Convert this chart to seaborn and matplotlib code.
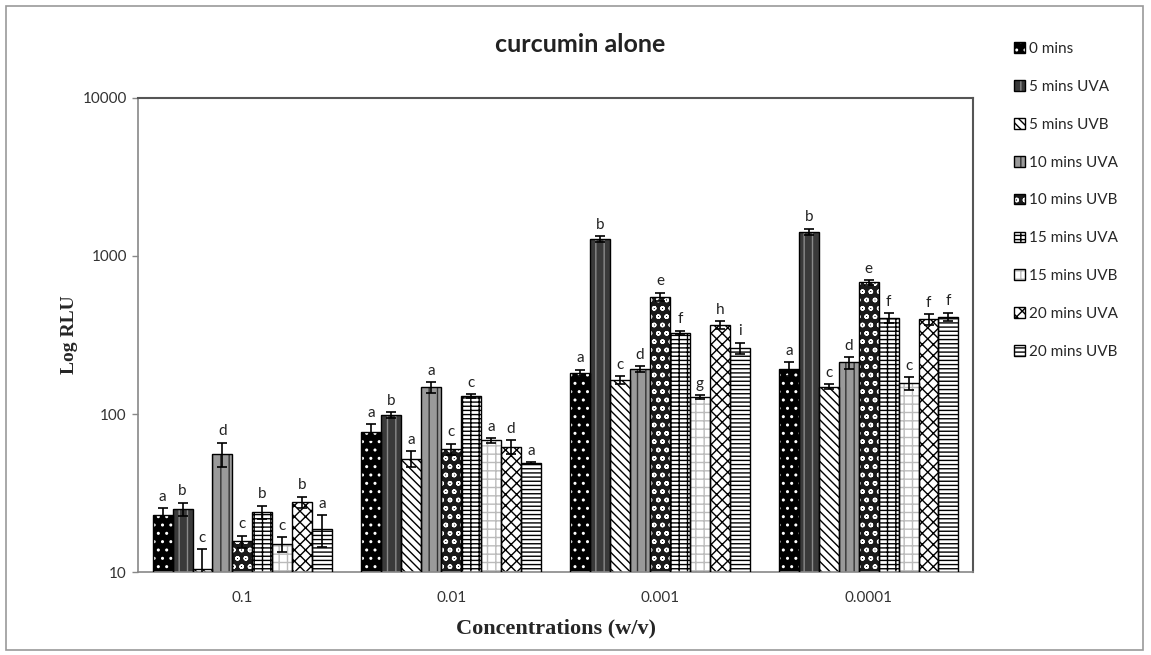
import matplotlib
matplotlib.use("Agg")
import matplotlib.pyplot as plt
from matplotlib.patches import Patch, Rectangle
import numpy as np
import seaborn as sns
import pandas as pd

# data (mean RLU and error per treatment, one value per concentration)
concentrations = ["0.1", "0.01", "0.001", "0.0001"]
treatments = ["0 mins", "5 mins UVA", "5 mins UVB", "10 mins UVA", "10 mins UVB",
              "15 mins UVA", "15 mins UVB", "20 mins UVA", "20 mins UVB"]

mins0 = [23, 77, 182, 193]
uva5 = [25, 99, 1280, 1420]
uvb5 = [10.5, 52, 164, 149]
uva10 = [56, 148, 192, 212]
uvb10 = [15.6, 60, 552, 680]
uva15 = [24, 130, 327, 404]
uvb15 = [15, 68, 128, 156]
uva20 = [27.7, 62, 367, 397]
uvb20 = [18.6, 49, 262, 413]

err_mins0 = [2.3, 9, 9, 19]
err_uva5 = [2.5, 4, 60, 70]
err_uvb5 = [3.5, 6, 10, 5]
err_uva10 = [10, 12, 8, 18]
err_uvb10 = [1.4, 5, 35, 25]
err_uva15 = [2.3, 3, 10, 30]
err_uvb15 = [1.7, 2, 3, 15]
err_uva20 = [2.3, 6, 22, 30]
err_uvb20 = [4.3, 0.5, 21, 25]

# significance letters, one list per concentration
letters_01 = ["a", "b", "c", "d", "c", "b", "c", "b", "a"]
letters_001 = ["a", "b", "a", "a", "c", "c", "a", "d", "a"]
letters_0001 = ["a", "b", "c", "d", "e", "f", "g", "h", "i"]
letters_00001 = ["a", "b", "c", "d", "e", "f", "c", "f", "f"]

means = [mins0, uva5, uvb5, uva10, uvb10, uva15, uvb15, uva20, uvb20]
errs = [err_mins0, err_uva5, err_uvb5, err_uva10, err_uvb10,
        err_uva15, err_uvb15, err_uva20, err_uvb20]
letters = [letters_01, letters_001, letters_0001, letters_00001]

rows = []
for t, m in zip(treatments, means):
    for c, v in zip(concentrations, m):
        rows.append({"conc": c, "treatment": t, "rlu": v})
df = pd.DataFrame(rows)

# (face, hatch, hatch colour) for each treatment
styles = [("black", "..", "white"),
          ("#3a3a3a", "||", "#8a8a8a"),
          ("white", "\\\\\\\\", "black"),
          ("#9a9a9a", "||", "#333333"),
          ("#1a1a1a", "oo", "white"),
          ("white", "++--", "black"),
          ("white", "++", "#bbbbbb"),
          ("white", "xxx", "black"),
          ("white", "----", "black")]

sns.set_style("white")
plt.rcParams["hatch.linewidth"] = 1.0
plt.rcParams["font.family"] = ["Lato", "DejaVu Sans"]

fig = plt.figure(figsize=(11.51, 6.55), dpi=100)
ax = fig.add_axes([0.1199, 0.1267, 0.7255, 0.7237])

sns.barplot(data=df, x="conc", y="rlu", hue="treatment", order=concentrations,
            hue_order=treatments, width=0.86, errorbar=None, legend=False, ax=ax)
ax.set_yscale("log")

bar_groups = list(ax.containers)
for i, cont in enumerate(bar_groups):
    face, hatch, hcol = styles[i]
    for j, bar in enumerate(cont):
        bar.set_facecolor(face)
        bar.set_hatch(hatch)
        bar.set_edgecolor(hcol)
        bar.set_linewidth(0)
        x, y = bar.get_xy()
        ax.add_patch(Rectangle((x, y), bar.get_width(), bar.get_height(),
                               fill=False, edgecolor="black", lw=1.0, zorder=3))
        xc = x + bar.get_width() / 2
        top = y + bar.get_height()
        e = errs[i][j]
        ax.errorbar(xc, top, yerr=e, fmt="none", ecolor="black", elinewidth=1.2,
                    capsize=3.5, capthick=1.2, zorder=4)
        ax.annotate(letters[j][i], (xc, top + e), xytext=(0, 3),
                    textcoords="offset points", ha="center", va="bottom",
                    fontsize=11, color="#222222")

ax.set_xlim(-0.5, len(concentrations) - 0.5)
ax.set_ylim(10, 10000)
ax.set_yticks([10, 100, 1000, 10000])
ax.set_yticklabels(["10", "100", "1000", "10000"])
ax.minorticks_off()
ax.tick_params(axis="y", which="major", left=True, length=4, width=1,
               color="#888888", labelsize=11, pad=4)
ax.tick_params(axis="x", bottom=False, labelsize=11, pad=10)
for lab in ax.get_yticklabels() + ax.get_xticklabels():
    lab.set_color("#333333")

for side in ["left", "bottom"]:
    ax.spines[side].set_color("#888888")
    ax.spines[side].set_linewidth(1.2)
for side in ["top", "right"]:
    ax.spines[side].set_color("#555555")
    ax.spines[side].set_linewidth(1.5)

ax.set_xlabel("Concentrations (w/v)", family="Liberation Serif", fontweight="bold",
              fontsize=16, labelpad=10)
ax.set_ylabel("Log RLU", family="Liberation Serif", fontweight="bold",
              fontsize=14, labelpad=3)

fig.text(580 / 1151, 1 - 45 / 655, "curcumin alone", ha="center", va="center",
         fontsize=18, fontweight="bold", color="#222222")

handles = [(Patch(facecolor=f, hatch=h, edgecolor=c, lw=0),
            Patch(fill=False, edgecolor="black", lw=1)) for f, h, c in styles]
fig.legend(handles, treatments, loc="upper left",
           bbox_to_anchor=(1008 / 1151, 1 - 36 / 655), frameon=False,
           fontsize=11, handlelength=0.7, handleheight=0.7, handletextpad=0.3,
           labelspacing=1.56, borderaxespad=0)

fig.patches.append(Rectangle((6 / 1151, 5 / 655), 1137 / 1151, 644 / 655,
                             transform=fig.transFigure, fill=False,
                             edgecolor="#999999", lw=1.2))

fig.savefig("out.png", dpi=100)
